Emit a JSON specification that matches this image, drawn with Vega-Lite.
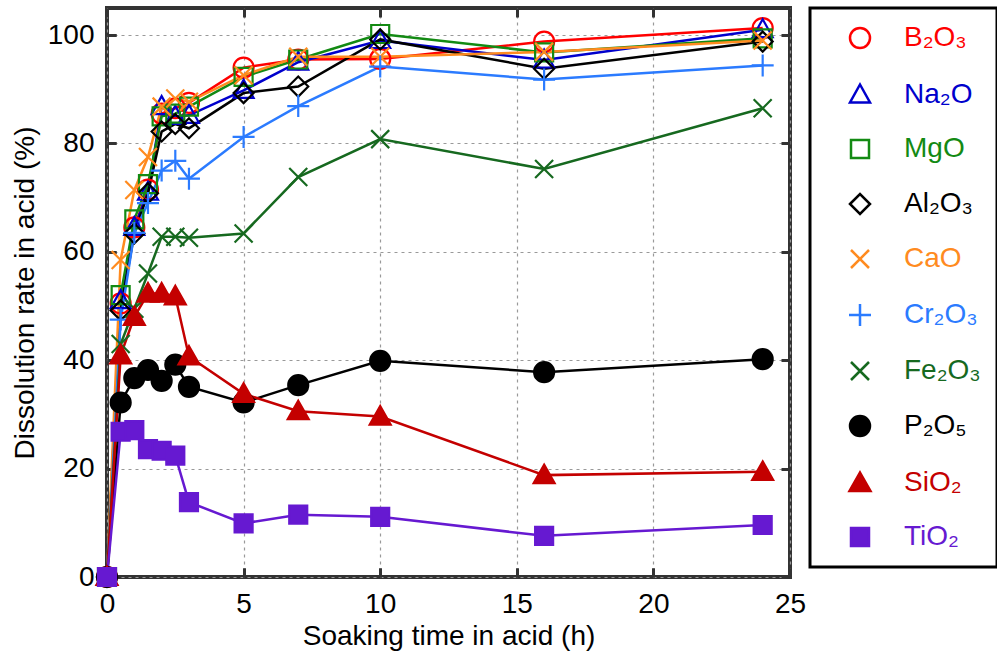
{
  "$schema": "https://vega.github.io/schema/vega-lite/v6.json",
  "width": 683,
  "height": 569,
  "autosize": {"type": "none"},
  "padding": {"left": 107, "top": 8, "right": 207, "bottom": 89},
  "background": "white",
  "config": {
    "font": "Liberation Sans",
    "view": {"stroke": "#333333", "strokeWidth": 4},
    "axis": {
      "labelFont": "Liberation Sans", "titleFont": "Liberation Sans",
      "labelFontSize": 28, "titleFontSize": 28, "labelColor": "#000000", "titleColor": "#000000",
      "titleFontWeight": "normal", "domain": false, "tickColor": "#333333", "tickWidth": 3,
      "tickSize": -9, "labelPadding": 22, "labelFlush": false, "labelOverlap": false,
      "gridColor": "#999999", "gridDash": [3, 4], "gridWidth": 1.2
    },
    "legend": {
      "orient": "right", "offset": 18, "padding": 16, "strokeColor": "#000000", "strokeWidth": 3,
      "symbolSize": 400, "symbolStrokeWidth": 2.5, "symbolOffset": 20, "labelFontSize": 28, "labelFont": "Liberation Sans",
      "labelOffset": 30, "rowPadding": 26, "labelLimit": 300, "title": null
    }
  },
  "data": {"values": [
    {"series": "B₂O₃", "time": 0, "rate": 0}, {"series": "B₂O₃", "time": 0.5, "rate": 50.5}, {"series": "B₂O₃", "time": 1, "rate": 64.5}, {"series": "B₂O₃", "time": 1.5, "rate": 71.5}, {"series": "B₂O₃", "time": 2, "rate": 85.5}, {"series": "B₂O₃", "time": 2.5, "rate": 86.5}, {"series": "B₂O₃", "time": 3, "rate": 87.5}, {"series": "B₂O₃", "time": 5, "rate": 94}, {"series": "B₂O₃", "time": 7, "rate": 95.5}, {"series": "B₂O₃", "time": 10, "rate": 95.6}, {"series": "B₂O₃", "time": 16, "rate": 98.8}, {"series": "B₂O₃", "time": 24, "rate": 101.3},
    {"series": "Na₂O", "time": 0, "rate": 0}, {"series": "Na₂O", "time": 0.5, "rate": 51}, {"series": "Na₂O", "time": 1, "rate": 64.5}, {"series": "Na₂O", "time": 1.5, "rate": 71}, {"series": "Na₂O", "time": 2, "rate": 86.8}, {"series": "Na₂O", "time": 2.5, "rate": 85}, {"series": "Na₂O", "time": 3, "rate": 85.2}, {"series": "Na₂O", "time": 5, "rate": 89.8}, {"series": "Na₂O", "time": 7, "rate": 95}, {"series": "Na₂O", "time": 10, "rate": 99}, {"series": "Na₂O", "time": 16, "rate": 95.4}, {"series": "Na₂O", "time": 24, "rate": 101}, 
    {"series": "MgO", "time": 0, "rate": 0}, {"series": "MgO", "time": 0.5, "rate": 52}, {"series": "MgO", "time": 1, "rate": 66}, {"series": "MgO", "time": 1.5, "rate": 72.5}, {"series": "MgO", "time": 2, "rate": 85}, {"series": "MgO", "time": 2.5, "rate": 85.5}, {"series": "MgO", "time": 3, "rate": 86.8}, {"series": "MgO", "time": 5, "rate": 92.3}, {"series": "MgO", "time": 7, "rate": 95.5}, {"series": "MgO", "time": 10, "rate": 100.2}, {"series": "MgO", "time": 16, "rate": 96.8}, {"series": "MgO", "time": 24, "rate": 99.4},
    {"series": "Al₂O₃", "time": 0, "rate": 0}, {"series": "Al₂O₃", "time": 0.5, "rate": 49.2}, {"series": "Al₂O₃", "time": 1, "rate": 63.4}, {"series": "Al₂O₃", "time": 1.5, "rate": 70.8}, {"series": "Al₂O₃", "time": 2, "rate": 82.2}, {"series": "Al₂O₃", "time": 2.5, "rate": 83.6}, {"series": "Al₂O₃", "time": 3, "rate": 82.8}, {"series": "Al₂O₃", "time": 5, "rate": 89.3}, {"series": "Al₂O₃", "time": 7, "rate": 90.5}, {"series": "Al₂O₃", "time": 10, "rate": 99.2}, {"series": "Al₂O₃", "time": 16, "rate": 93.8}, {"series": "Al₂O₃", "time": 24, "rate": 98.8},
    {"series": "CaO", "time": 0, "rate": 0}, {"series": "CaO", "time": 0.5, "rate": 58.5}, {"series": "CaO", "time": 1, "rate": 71.4}, {"series": "CaO", "time": 1.5, "rate": 77.5}, {"series": "CaO", "time": 2, "rate": 86.8}, {"series": "CaO", "time": 2.5, "rate": 88.3}, {"series": "CaO", "time": 3, "rate": 87.7}, {"series": "CaO", "time": 5, "rate": 92.6}, {"series": "CaO", "time": 7, "rate": 96}, {"series": "CaO", "time": 10, "rate": 96}, {"series": "CaO", "time": 16, "rate": 96.9}, {"series": "CaO", "time": 24, "rate": 99},
    {"series": "Cr₂O₃", "time": 0, "rate": 0}, {"series": "Cr₂O₃", "time": 0.5, "rate": 47.5}, {"series": "Cr₂O₃", "time": 1, "rate": 63.5}, {"series": "Cr₂O₃", "time": 1.5, "rate": 69}, {"series": "Cr₂O₃", "time": 2, "rate": 75}, {"series": "Cr₂O₃", "time": 2.5, "rate": 76.8}, {"series": "Cr₂O₃", "time": 3, "rate": 73.5}, {"series": "Cr₂O₃", "time": 5, "rate": 81.2}, {"series": "Cr₂O₃", "time": 7, "rate": 86.9}, {"series": "Cr₂O₃", "time": 10, "rate": 94.2}, {"series": "Cr₂O₃", "time": 16, "rate": 91.8}, {"series": "Cr₂O₃", "time": 24, "rate": 94.4},
    {"series": "Fe₂O₃", "time": 0, "rate": 0}, {"series": "Fe₂O₃", "time": 0.5, "rate": 43}, {"series": "Fe₂O₃", "time": 1, "rate": 49.5}, {"series": "Fe₂O₃", "time": 1.5, "rate": 56}, {"series": "Fe₂O₃", "time": 2, "rate": 62.8}, {"series": "Fe₂O₃", "time": 2.5, "rate": 62.8}, {"series": "Fe₂O₃", "time": 3, "rate": 62.6}, {"series": "Fe₂O₃", "time": 5, "rate": 63.4}, {"series": "Fe₂O₃", "time": 7, "rate": 73.8}, {"series": "Fe₂O₃", "time": 10, "rate": 80.8}, {"series": "Fe₂O₃", "time": 16, "rate": 75.3}, {"series": "Fe₂O₃", "time": 24, "rate": 86.5},
    {"series": "P₂O₅", "time": 0, "rate": 0}, {"series": "P₂O₅", "time": 0.5, "rate": 32.2}, {"series": "P₂O₅", "time": 1, "rate": 36.7}, {"series": "P₂O₅", "time": 1.5, "rate": 38.2}, {"series": "P₂O₅", "time": 2, "rate": 36.2}, {"series": "P₂O₅", "time": 2.5, "rate": 39.2}, {"series": "P₂O₅", "time": 3, "rate": 35.1}, {"series": "P₂O₅", "time": 5, "rate": 32.2}, {"series": "P₂O₅", "time": 7, "rate": 35.4}, {"series": "P₂O₅", "time": 10, "rate": 39.9}, {"series": "P₂O₅", "time": 16, "rate": 37.8}, {"series": "P₂O₅", "time": 24, "rate": 40.2},
    {"series": "SiO₂", "time": 0, "rate": 0}, {"series": "SiO₂", "time": 0.5, "rate": 40.9}, {"series": "SiO₂", "time": 1, "rate": 48}, {"series": "SiO₂", "time": 1.5, "rate": 52.3}, {"series": "SiO₂", "time": 2, "rate": 52.3}, {"series": "SiO₂", "time": 2.5, "rate": 51.8}, {"series": "SiO₂", "time": 3, "rate": 40.7}, {"series": "SiO₂", "time": 5, "rate": 33.8}, {"series": "SiO₂", "time": 7, "rate": 30.6}, {"series": "SiO₂", "time": 10, "rate": 29.6}, {"series": "SiO₂", "time": 16, "rate": 18.8}, {"series": "SiO₂", "time": 24, "rate": 19.4},
    {"series": "TiO₂", "time": 0, "rate": 0}, {"series": "TiO₂", "time": 0.5, "rate": 26.8}, {"series": "TiO₂", "time": 1, "rate": 27.1}, {"series": "TiO₂", "time": 1.5, "rate": 23.6}, {"series": "TiO₂", "time": 2, "rate": 23.3}, {"series": "TiO₂", "time": 2.5, "rate": 22.4}, {"series": "TiO₂", "time": 3, "rate": 13.8}, {"series": "TiO₂", "time": 5, "rate": 9.9}, {"series": "TiO₂", "time": 7, "rate": 11.5}, {"series": "TiO₂", "time": 10, "rate": 11.1}, {"series": "TiO₂", "time": 16, "rate": 7.6}, {"series": "TiO₂", "time": 24, "rate": 9.6}
  ]},
  "resolve": {"axis": {"x": "independent", "y": "independent"}},
  "layer": [
    {
      "mark": {"type": "line", "strokeWidth": 2.5},
      "encoding": {
        "x": {"field": "time", "type": "quantitative", "scale": {"domain": [0, 25], "nice": false, "zero": false},
              "axis": {"values": [0, 5, 10, 15, 20, 25], "title": "Soaking time in acid (h)", "titlePadding": 4, "grid": true}},
        "y": {"field": "rate", "type": "quantitative", "scale": {"domain": [0, 105], "nice": false},
              "axis": {"values": [0, 20, 40, 60, 80, 100], "title": "Dissolution rate in acid (%)", "titlePadding": 8, "grid": true}},
        "stroke": {"field": "series", "type": "nominal",
          "scale": {"domain": ["B₂O₃", "Na₂O", "MgO", "Al₂O₃", "CaO", "Cr₂O₃", "Fe₂O₃", "P₂O₅", "SiO₂", "TiO₂"],
                    "range": ["#ff0000", "#0000cc", "#138a13", "#000000", "#ff8b1f", "#2b7bff", "#16691f", "#000000", "#c40000", "#6619d1"]},
          "legend": {"title": null, "labelColor": {"expr": "scale('stroke', datum.value)"}}}
      }
    },
    {
      "mark": {"type": "point", "size": 400, "strokeWidth": 2.2, "opacity": 1},
      "encoding": {
        "x": {"field": "time", "type": "quantitative",
              "axis": {"orient": "bottom", "values": [0, 5, 10, 15, 20, 25], "labels": false, "title": null, "grid": false, "offset": -9, "tickSize": 9}},
        "y": {"field": "rate", "type": "quantitative",
              "axis": {"orient": "left", "values": [0, 20, 40, 60, 80, 100], "labels": false, "title": null, "grid": false, "offset": -9, "tickSize": 9}},
        "stroke": {"field": "series", "type": "nominal"},
        "fill": {"field": "series", "type": "nominal",
          "scale": {"domain": ["B₂O₃", "Na₂O", "MgO", "Al₂O₃", "CaO", "Cr₂O₃", "Fe₂O₃", "P₂O₅", "SiO₂", "TiO₂"],
                    "range": ["transparent", "transparent", "transparent", "transparent", "transparent", "transparent", "transparent", "#000000", "#c40000", "#6619d1"]}},
        "shape": {"field": "series", "type": "nominal",
          "scale": {"domain": ["B₂O₃", "Na₂O", "MgO", "Al₂O₃", "CaO", "Cr₂O₃", "Fe₂O₃", "P₂O₅", "SiO₂", "TiO₂"],
                    "range": ["circle", "M0,-1.05L1,0.75L-1,0.75Z", "M-0.9,-0.9H0.9V0.9H-0.9Z", "diamond", "M-0.9,-0.9L0.9,0.9M-0.9,0.9L0.9,-0.9", "M-1.1,0H1.1M0,-1.1V1.1", "M-0.9,-0.9L0.9,0.9M-0.9,0.9L0.9,-0.9", "circle", "M0,-1.05L1.05,0.8L-1.05,0.8Z", "M-0.9,-0.9H0.9V0.9H-0.9Z"]}}
      }
    },
    {
      "mark": {"type": "point", "opacity": 0},
      "encoding": {
        "x": {"field": "time", "type": "quantitative", "axis": {"orient": "top", "values": [0, 5, 10, 15, 20, 25], "labels": false, "title": null, "grid": false, "offset": -9, "tickSize": 9}},
        "y": {"field": "rate", "type": "quantitative", "axis": {"orient": "right", "values": [0, 20, 40, 60, 80, 100], "labels": false, "title": null, "grid": false, "offset": -9, "tickSize": 9}}
      }
    }
  ]
}
